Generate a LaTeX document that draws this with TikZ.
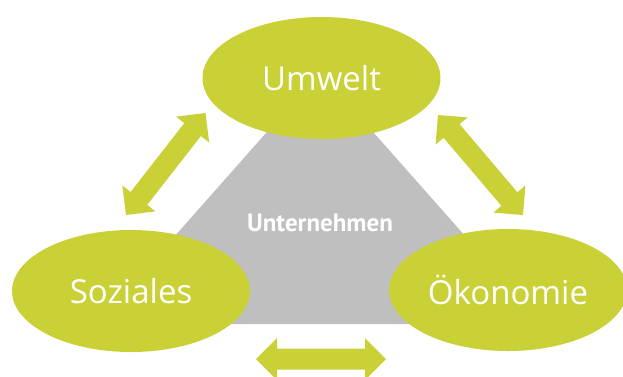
\documentclass[tikz,border=0pt]{standalone}
\usepackage{fontspec}
\setmainfont{Open Sans}
\newfontfamily\centerfont{PT Sans}
\usetikzlibrary{shapes.geometric,calc}
\definecolor{lime}{RGB}{201,209,55}
\definecolor{trigray}{RGB}{191,191,191}
\newcommand\blockarrow[2]{%
  \fill[lime] (#1)
    -- ($(#1)!21pt!(#2)!21pt!90:(#2)$)
    -- ($(#1)!21pt!(#2)!10.5pt!90:(#2)$)
    -- ($(#2)!21pt!(#1)!10.5pt!-90:(#1)$)
    -- ($(#2)!21pt!(#1)!21pt!-90:(#1)$)
    -- (#2)
    -- ($(#2)!21pt!(#1)!21pt!90:(#1)$)
    -- ($(#2)!21pt!(#1)!10.5pt!90:(#1)$)
    -- ($(#1)!21pt!(#2)!10.5pt!-90:(#2)$)
    -- ($(#1)!21pt!(#2)!21pt!-90:(#2)$)
    -- cycle;}
\begin{document}
\begin{tikzpicture}[x=1pt,y=-1pt,
  topic/.style={ellipse, fill=lime, minimum width=238pt, minimum height=122pt,
    inner sep=0pt, text=white, font=\fontsize{33}{39}\selectfont},
  core/.style={text=white, inner sep=0pt, font=\centerfont\bfseries\fontsize{25}{29}\selectfont}]
\clip (0,0) rectangle (623,376);
\useasboundingbox (0,0) rectangle (623,376);
% central triangle
\coordinate (tA) at (320,72);
\coordinate (tB) at (97,324);
\coordinate (tC) at (543,324);
\fill[trigray] (tA) -- (tB) -- (tC) -- cycle;
% ellipses
\node[topic] (umwelt) at (321.5,78) {Umwelt};
\node[topic] (soziales) at (131,291) {Soziales};
\node[topic] (oekonomie) at (508,290) {Ökonomie};
\node[core] (unternehmen) at (320,222.5) {Unternehmen};
% arrows
\coordinate (l1) at (126,215);
\coordinate (l2) at (205.5,113);
\coordinate (r1) at (438,115);
\coordinate (r2) at (523,215);
\coordinate (b1) at (256,359);
\coordinate (b2) at (386,359);
\blockarrow{l1}{l2}
\blockarrow{r1}{r2}
\blockarrow{b1}{b2}
\end{tikzpicture}
\end{document}
